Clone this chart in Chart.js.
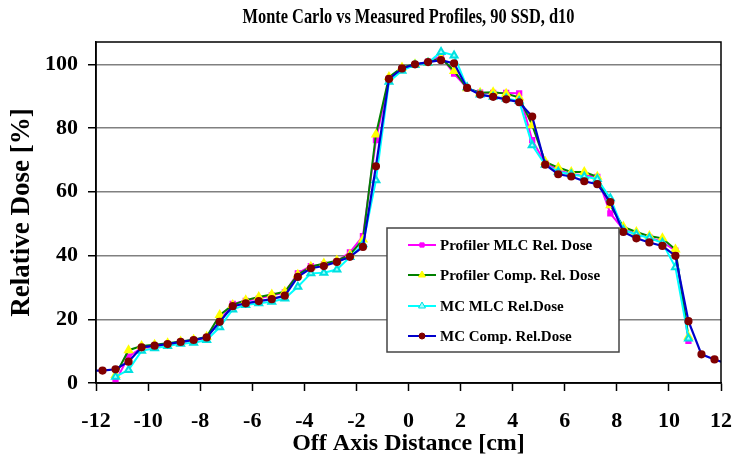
<!DOCTYPE html>
<html>
<head>
<meta charset="utf-8">
<script src="https://cdn.jsdelivr.net/npm/chart.js@4.4.1/dist/chart.umd.min.js"></script>
<style>
  html, body { margin: 0; padding: 0; background: #fff; }
  #wrap { width: 749px; height: 464px; }
</style>
</head>
<body>
<div id="wrap"><canvas id="chartArea" width="749" height="464"></canvas></div>
<script>
// off axis positions [cm]
var offAxis = [-12.25, -11.75, -11.25, -10.75, -10.25, -9.75, -9.25, -8.75, -8.25, -7.75,
    -7.25, -6.75, -6.25, -5.75, -5.25, -4.75, -4.25, -3.75, -3.25, -2.75,
    -2.25, -1.75, -1.25, -0.75, -0.25, 0.25, 0.75, 1.25, 1.75, 2.25,
    2.75, 3.25, 3.75, 4.25, 4.75, 5.25, 5.75, 6.25, 6.75, 7.25,
    7.75, 8.25, 8.75, 9.25, 9.75, 10.25, 10.75, 11.25, 11.75, 12.25];

var profilerMLC = [null, null, 0.5, 8.3, 11.0, 11.3, 12.1, 12.7, 13.3, 14.2,
    19.5, 24.8, 25.8, 26.5, 27.5, 28.4, 34.4, 36.7, 37.2, 38.2,
    41.0, 46.1, 76.2, 95.5, 98.5, 99.8, 100.8, 102.5, 97.1, 92.5,
    91.1, 91.0, 91.0, 90.9, 76.2, 69.0, 66.8, 65.5, 65.2, 64.7,
    53.2, 48.2, 46.7, 45.7, 44.3, 41.5, 13.2, null, null, null];

var profilerComp = [null, null, 2.5, 10.3, 11.6, 12.0, 12.5, 13.0, 13.6, 14.5,
    21.3, 24.5, 26.0, 27.0, 27.8, 28.6, 34.0, 36.5, 37.5, 38.4,
    40.3, 45.0, 78.0, 96.0, 99.0, 100.0, 100.5, 102.0, 97.9, 92.5,
    91.1, 91.2, 90.8, 89.6, 80.9, 69.4, 67.6, 66.2, 66.2, 64.7,
    55.8, 49.0, 47.4, 46.1, 45.4, 41.9, 14.5, null, null, null];

var mcMLC = [null, null, 2.0, 4.1, 10.1, 10.9, 11.6, 12.3, 12.6, 13.5,
    17.5, 23.1, 24.5, 25.0, 25.5, 26.5, 30.2, 34.4, 34.6, 35.6,
    39.5, 43.5, 63.6, 94.5, 98.0, 99.8, 100.5, 103.9, 102.8, 92.8,
    90.5, 89.8, 89.3, 88.5, 74.6, 68.5, 66.3, 65.5, 64.8, 64.0,
    58.0, 48.0, 46.6, 45.5, 44.0, 36.3, 14.0, null, null, null];

var mcComp = [3.9, 3.9, 4.3, 6.7, 11.2, 11.7, 12.2, 12.9, 13.5, 14.3,
    19.2, 24.1, 25.0, 25.7, 26.3, 27.4, 33.3, 36.0, 36.7, 38.0,
    39.6, 42.7, 68.0, 95.4, 98.7, 100.0, 100.7, 101.3, 100.3, 92.6,
    90.5, 89.8, 89.0, 88.1, 83.6, 68.5, 65.5, 64.8, 63.3, 62.4,
    56.8, 47.4, 45.4, 44.1, 43.0, 39.9, 19.4, 9.0, 7.4, 6.0];

var seriesLabels = ['Profiler MLC Rel. Dose', 'Profiler Comp. Rel. Dose', 'MC MLC Rel.Dose', 'MC Comp. Rel.Dose'];
var yTicks = [0, 20, 40, 60, 80, 100];
var chartTitle = 'Monte Carlo vs Measured Profiles, 90 SSD, d10';

var serif = "'Liberation Serif', 'Times New Roman', serif";

function toPoints(vals) {
    var pts = [];
    for (var i = 0; i < offAxis.length; i++) {
        pts.push({ x: offAxis[i], y: vals[i] });
    }
    return pts;
}

// frame, title and the boxed legend
var framePlugin = {
    id: 'frame',
    afterDraw: function (chart) {
        var c = chart.ctx, a = chart.chartArea;
        c.save();
        c.strokeStyle = '#000';
        c.lineWidth = 1.5;
        c.strokeRect(a.left, a.top, a.right - a.left, a.bottom - a.top);

        // title is narrow in the original, squeeze it a bit
        c.save();
        c.translate((a.left + a.right) / 2, 18);
        c.scale(0.78, 1);
        c.fillStyle = '#000';
        c.font = 'bold 21px ' + serif;
        c.textAlign = 'center';
        c.textBaseline = 'middle';
        c.fillText(chartTitle, 0, 0);
        c.restore();

        // legend box
        var bx = 387, by = 228, bw = 232, bh = 124;
        c.fillStyle = '#fff';
        c.fillRect(bx, by, bw, bh);
        c.strokeStyle = '#444';
        c.lineWidth = 1.5;
        c.strokeRect(bx, by, bw, bh);
        var rows = [245, 275, 306, 336];
        seriesLabels.forEach(function (lbl, r) {
            var ds = chart.data.datasets[r];
            var y = rows[r];
            c.strokeStyle = ds.borderColor;
            c.lineWidth = 2;
            c.beginPath();
            c.moveTo(408, y);
            c.lineTo(436, y);
            c.stroke();
            c.fillStyle = ds.pointBackgroundColor;
            c.strokeStyle = ds.pointBorderColor;
            c.lineWidth = 1;
            Chart.helpers.drawPoint(c, { pointStyle: ds.pointStyle, radius: ds.pointRadius, borderWidth: 1, rotation: 0 }, 422, y);
            c.fillStyle = '#000';
            c.font = 'bold 15px ' + serif;
            c.textAlign = 'left';
            c.textBaseline = 'middle';
            c.fillText(lbl, 440, y + 1);
        });
        c.restore();
    }
};

var ctx = document.getElementById('chartArea').getContext('2d');
var config = {
    type: 'line',
    data: {
        datasets: [{
            label: seriesLabels[0],
            data: toPoints(profilerMLC),
            borderColor: '#FF00FF',
            borderWidth: 2,
            pointStyle: 'rect',
            pointRadius: 3,
            pointBackgroundColor: '#FF00FF',
            pointBorderColor: '#FF00FF',
            order: 3
        }, {
            label: seriesLabels[1],
            data: toPoints(profilerComp),
            borderColor: '#008000',
            borderWidth: 2,
            pointStyle: 'triangle',
            pointRadius: 4,
            pointBackgroundColor: '#FFFF00',
            pointBorderColor: '#FFFF00',
            order: 2
        }, {
            label: seriesLabels[2],
            data: toPoints(mcMLC),
            borderColor: '#00FFFF',
            borderWidth: 2,
            pointStyle: 'triangle',
            pointRadius: 4,
            pointBackgroundColor: '#A0FFFF',
            pointBorderColor: '#00E0E0',
            order: 1
        }, {
            label: seriesLabels[3],
            data: toPoints(mcComp),
            borderColor: '#0000CC',
            borderWidth: 2.2,
            pointStyle: 'circle',
            pointRadius: 3,
            pointBackgroundColor: '#800000',
            pointBorderColor: '#800000',
            order: 0
        }]
    },
    options: {
        responsive: false,
        animation: false,
        layout: { padding: { top: 42, right: 8, left: 0, bottom: 0 } },
        plugins: {
            legend: { display: false },
            title: { display: false },
            tooltip: { enabled: false }
        },
        elements: { line: { tension: 0 } },
        scales: {
            x: {
                type: 'linear',
                min: -12,
                max: 12,
                afterFit: function (s) { s.height = 81; },
                ticks: {
                    stepSize: 2,
                    color: '#000',
                    padding: 17,
                    maxRotation: 0,
                    font: { family: serif, size: 22, weight: 'bold' }
                },
                grid: {
                    drawOnChartArea: false,
                    tickLength: 8,
                    tickColor: '#000',
                    tickWidth: 1.5
                },
                border: { color: '#000', width: 1.5 },
                title: {
                    display: true,
                    text: 'Off Axis Distance [cm]',
                    color: '#000',
                    font: { family: serif, size: 24, weight: 'bold' },
                    padding: { top: 0, bottom: 6 }
                }
            },
            y: {
                min: 0,
                max: 107,
                afterFit: function (s) { s.width = 96; },
                afterBuildTicks: function (s) {
                    s.ticks = yTicks.map(function (v) { return { value: v }; });
                },
                ticks: {
                    color: '#000',
                    padding: 10,
                    font: { family: serif, size: 22, weight: 'bold' }
                },
                grid: {
                    color: '#808080',
                    lineWidth: 1.5,
                    tickLength: 8,
                    tickColor: '#000',
                    tickWidth: 1.5
                },
                border: { color: '#000', width: 1.5 },
                title: {
                    display: true,
                    text: 'Relative Dose [%]',
                    color: '#000',
                    font: { family: serif, size: 27, weight: 'bold' },
                    padding: { top: 6, bottom: 0 }
                }
            }
        }
    },
    plugins: [framePlugin]
};
var myNewChart = new Chart(ctx, config);
</script>
</body>
</html>
